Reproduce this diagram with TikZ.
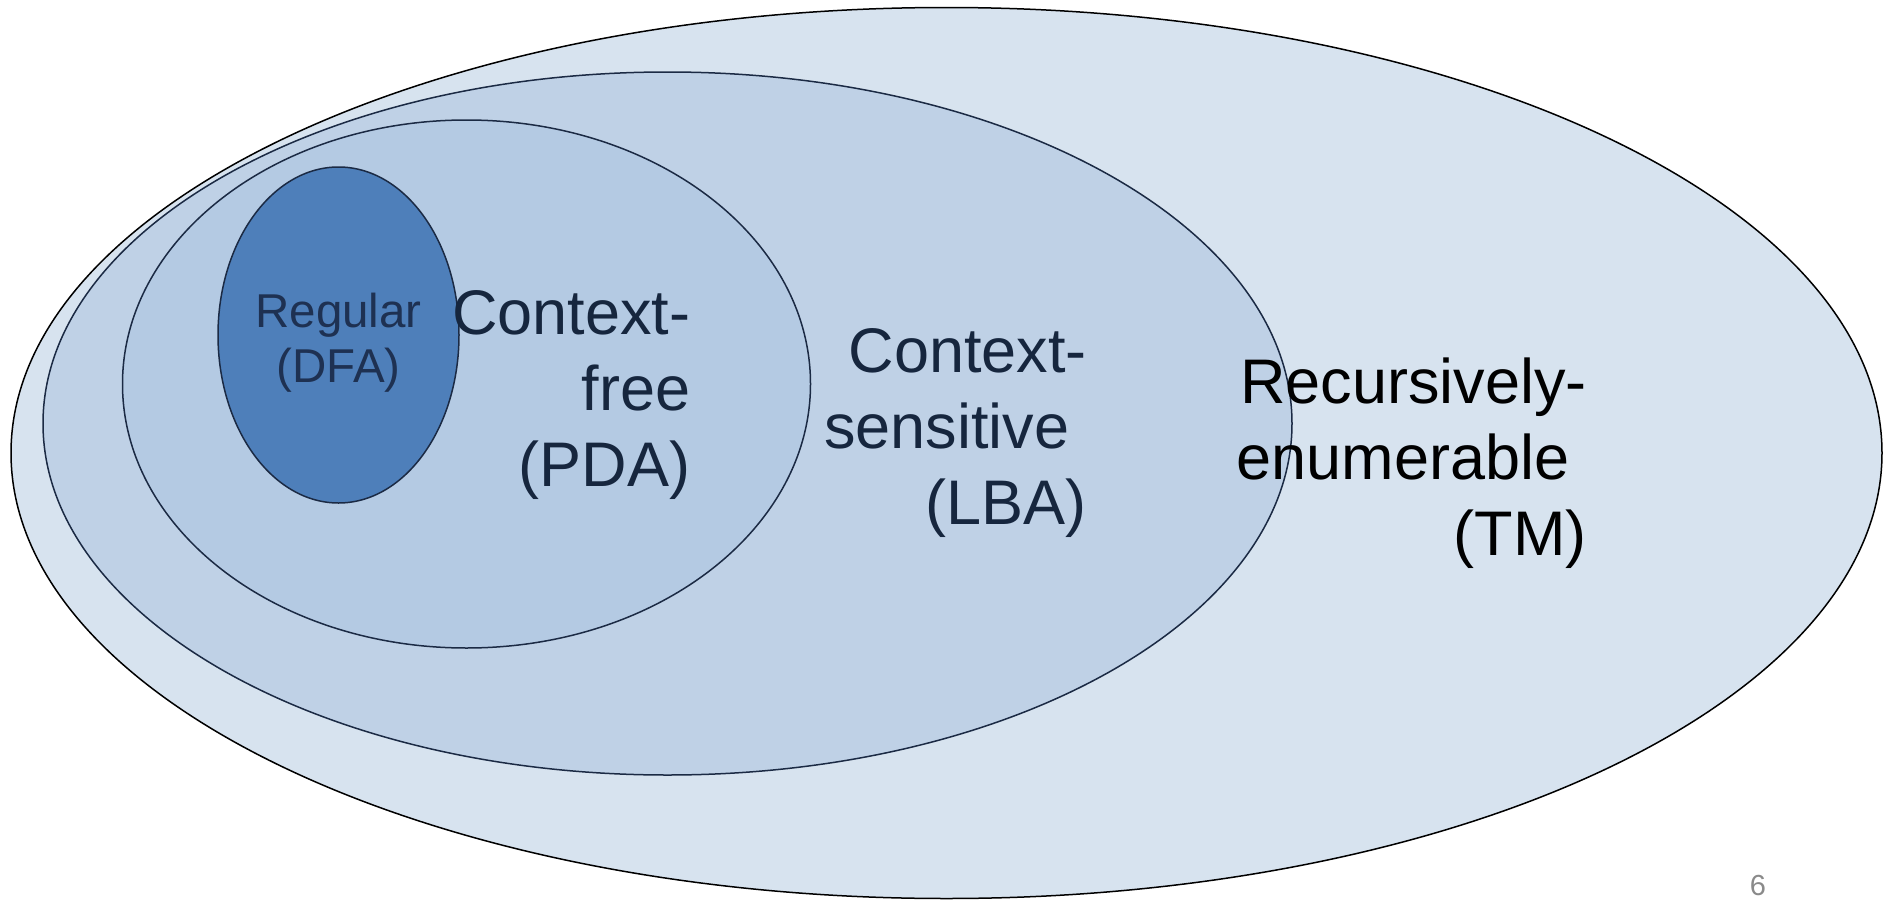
\documentclass[tikz,border=0pt]{standalone}
\usepackage{fontspec}
\setmainfont{Liberation Sans}
\usetikzlibrary{shapes.geometric}
\definecolor{reFill}{HTML}{D7E3EF}
\definecolor{csFill}{HTML}{BFD1E6}
\definecolor{cfFill}{HTML}{B4CAE3}
\definecolor{regFill}{HTML}{4E7FBA}
\definecolor{navyLine}{HTML}{1B2A44}
\definecolor{navyText}{HTML}{16263E}
\definecolor{regText}{HTML}{1E3152}
\definecolor{pageGray}{HTML}{8A8A8A}
\tikzset{
  langset/.style={ellipse, inner sep=0pt, line width=1.5pt, draw=navyLine},
  biglabel/.style={inner sep=0pt, text width=420pt, align=right, anchor=base east,
                   font=\fontsize{63}{76}\selectfont},
}
\newcommand{\trailsp}{\makebox[0.278em]{}}
\begin{document}
\begin{tikzpicture}[x=1pt,y=-1pt]
\useasboundingbox[fill=white] (0,0) rectangle (1883,902);
% sets of languages
\node[langset, draw=black, fill=reFill, minimum width=1871pt, minimum height=891pt] (re) at (946.5,453) {};
\node[langset, fill=csFill, minimum width=1249pt, minimum height=703pt] (cs) at (667.5,423.5) {};
\node[langset, fill=cfFill, minimum width=688pt, minimum height=528pt] (cf) at (466.5,384) {};
\node[langset, fill=regFill, minimum width=241pt, minimum height=336pt] (reg) at (338.5,335) {};
% labels
\node[inner sep=0pt, text width=300pt, align=center, anchor=base, text=regText,
      font=\fontsize{47.5}{55}\selectfont] (regLabel) at (338.6,327) {Regular\\(DFA)};
\node[biglabel, text=navyText] (cfLabel) at (690.5,334) {Context-\\free\\(PDA)};
\node[biglabel, text=navyText] (csLabel) at (1087,372) {Context-\\sensitive\trailsp\\(LBA)};
\node[biglabel, text=black] (reLabel) at (1587,403) {Recursively-\\enumerable\trailsp\\(TM)};
\node[inner sep=0pt, text=pageGray, font=\fontsize{29}{34}\selectfont] (pageNo) at (1758,886) {6};
\end{tikzpicture}
\end{document}
